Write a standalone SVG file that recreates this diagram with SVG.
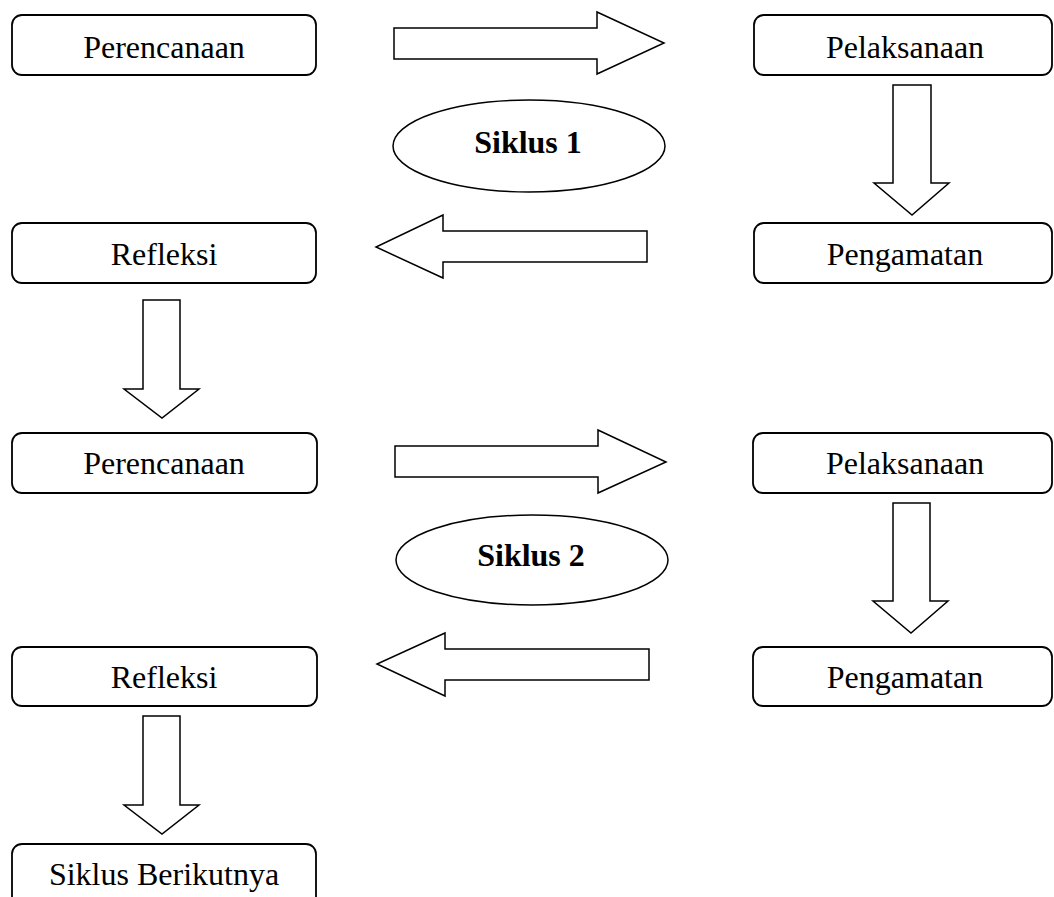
<svg xmlns="http://www.w3.org/2000/svg" width="1054" height="897" viewBox="0 0 1054 897">
<style>
.box{fill:#fff;stroke:#000;stroke-width:1.8}
.arr{fill:#fff;stroke:#000;stroke-width:1.5;stroke-linejoin:miter}
.ell{fill:#fff;stroke:#000;stroke-width:1.5}
.t{font-family:"Liberation Serif","Times New Roman",serif;font-size:32px;text-anchor:middle;fill:#000}
.b{font-weight:bold}
</style>
<rect width="1054" height="897" fill="#fff"/>
<g id="connectors">
<polygon class="arr" points="394,28 597,28 597,12 664,43 597,74 597,59 394,59"/>
<polygon class="arr" points="893,85 931,85 931,183 949,183 912,215 874,183 893,183"/>
<polygon class="arr" points="647,231 443,231 443,215 376,247 443,278 443,262 647,262"/>
<polygon class="arr" points="143,300 180,300 180,389 199,389 162,418 124,389 143,389"/>
<polygon class="arr" points="395,446 598,446 598,430 666,462 598,493 598,477 395,477"/>
<polygon class="arr" points="893,503 930,503 930,601 948,601 911,633 873,601 893,601"/>
<polygon class="arr" points="649,649 445,649 445,633 377,664 445,696 445,680 649,680"/>
<polygon class="arr" points="143,716 180,716 180,805 199,805 162,834 124,805 143,805"/>
</g>
<g id="perencanaan1"><rect class="box" x="12" y="15" width="304" height="60" rx="10"/><text class="t" x="164" y="58">Perencanaan</text></g>
<g id="pelaksanaan1"><rect class="box" x="754" y="15" width="298" height="60" rx="10"/><text class="t" x="905" y="58">Pelaksanaan</text></g>
<g id="siklus1"><ellipse class="ell" cx="529" cy="146" rx="136" ry="46"/><text class="t b" x="528" y="153">Siklus 1</text></g>
<g id="refleksi1"><rect class="box" x="12" y="223" width="304" height="60" rx="10"/><text class="t" x="164" y="265">Refleksi</text></g>
<g id="pengamatan1"><rect class="box" x="754" y="223" width="298" height="60" rx="10"/><text class="t" x="905" y="265">Pengamatan</text></g>
<g id="perencanaan2"><rect class="box" x="12" y="433" width="305" height="60" rx="10"/><text class="t" x="164" y="474">Perencanaan</text></g>
<g id="pelaksanaan2"><rect class="box" x="753" y="433" width="299" height="60" rx="10"/><text class="t" x="905" y="474">Pelaksanaan</text></g>
<g id="siklus2"><ellipse class="ell" cx="532" cy="560" rx="136" ry="45"/><text class="t b" x="531" y="566">Siklus 2</text></g>
<g id="refleksi2"><rect class="box" x="12" y="647" width="305" height="59" rx="10"/><text class="t" x="164" y="688">Refleksi</text></g>
<g id="pengamatan2"><rect class="box" x="753" y="647" width="299" height="59" rx="10"/><text class="t" x="905" y="688">Pengamatan</text></g>
<g id="siklus-berikutnya"><rect class="box" x="12" y="844" width="304" height="80" rx="10"/><text class="t" x="164" y="885">Siklus Berikutnya</text></g>
</svg>
